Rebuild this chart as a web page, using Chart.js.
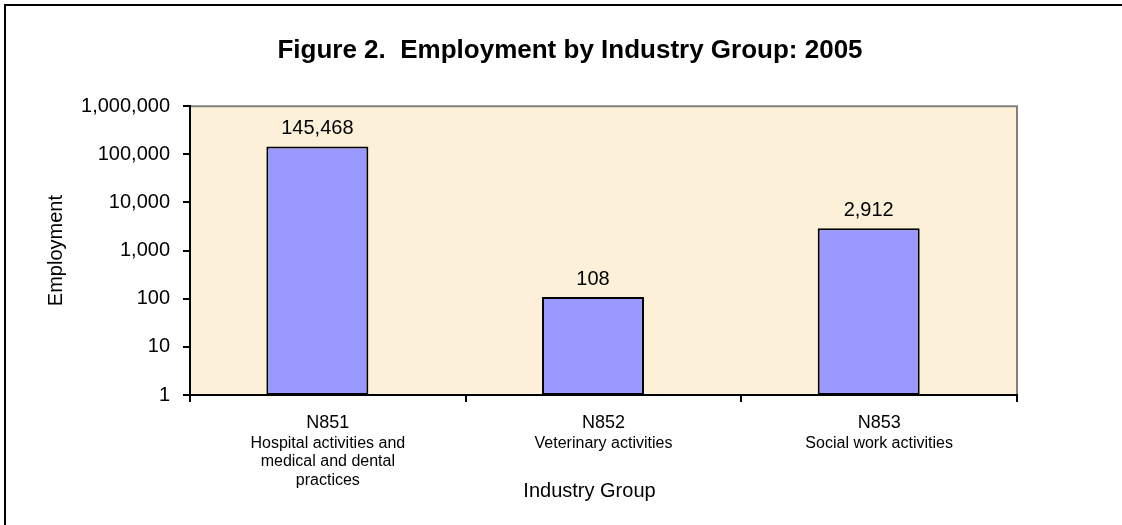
<!DOCTYPE html>
<html>
<head>
<meta charset="utf-8">
<script src="https://cdn.jsdelivr.net/npm/chart.js@4.4.1/dist/chart.umd.min.js"></script>
<style>
  html, body { margin: 0; padding: 0; background: #ffffff; }
  #wrap { position: relative; width: 1122px; height: 525px; }
</style>
</head>
<body>
<div id="wrap"><canvas id="c" width="1122" height="525"></canvas></div>
<script>
// ---- data ----
const codes = ["N851", "N852", "N853"];
const descriptions = [
  ["Hospital activities and", "medical and dental", "practices"],
  ["Veterinary activities"],
  ["Social work activities"]
];
const employment = [145468, 108, 2912];
const yTickValues = [1, 10, 100, 1000, 10000, 100000, 1000000];
const chartTitle = "Figure 2.  Employment by Industry Group: 2005";
const yTitle = "Employment";
const xTitle = "Industry Group";

const FONT = "'Liberation Sans', Arial, sans-serif";
const BAR_SHIFT = -0.038; // fraction of category width

const framePlugin = {
  id: 'frame',
  afterLayout(chart) {
    // centre the main title on the whole figure, and the x title a bit left of plot centre
    if (chart.titleBlock) {
      chart.titleBlock.left = 18;
      chart.titleBlock.right = chart.width;
    }
    const x3 = chart.scales.x3;
    if (x3) { x3.left = x3.left - 28; }
  },
  beforeDraw(chart) {
    const ctx = chart.ctx;
    const a = chart.chartArea;
    ctx.save();
    ctx.fillStyle = '#ffffff';
    ctx.fillRect(0, 0, chart.width, chart.height);
    // outer frame
    ctx.strokeStyle = '#000000';
    ctx.lineWidth = 2;
    ctx.beginPath();
    ctx.moveTo(5, chart.height);
    ctx.lineTo(5, 5);
    ctx.lineTo(chart.width, 5);
    ctx.stroke();
    // plot background
    ctx.fillStyle = '#FCF0D9';
    ctx.fillRect(a.left, a.top, a.right - a.left, a.bottom - a.top);
    // top and right border in grey
    ctx.strokeStyle = '#808080';
    ctx.lineWidth = 2;
    ctx.beginPath();
    ctx.moveTo(a.left, a.top);
    ctx.lineTo(a.right, a.top);
    ctx.lineTo(a.right, a.bottom);
    ctx.stroke();
    ctx.restore();
  }
};

const shiftPlugin = {
  id: 'shiftBars',
  beforeDatasetsDraw(chart) {
    const xs = chart.scales.x;
    const cw = (xs.right - xs.left) / codes.length;
    chart.ctx.save();
    chart.ctx.translate(BAR_SHIFT * cw, 0);
  },
  afterDatasetsDraw(chart) {
    const ctx = chart.ctx;
    const meta = chart.getDatasetMeta(0);
    ctx.fillStyle = '#000000';
    ctx.font = "20px " + FONT;
    ctx.textAlign = 'center';
    ctx.textBaseline = 'alphabetic';
    meta.data.forEach((bar, i) => {
      ctx.fillText(employment[i].toLocaleString('en-US'), bar.x, bar.y - 12);
    });
    ctx.restore();
  }
};

new Chart(document.getElementById('c'), {
  type: 'bar',
  data: {
    labels: codes,
    datasets: [{
      data: employment,
      backgroundColor: '#9999FF',
      borderColor: '#000000',
      borderWidth: 2,
      borderSkipped: false,
      categoryPercentage: 1,
      barPercentage: 0.37,
      xAxisID: 'x',
      yAxisID: 'y'
    }]
  },
  options: {
    responsive: false,
    animation: false,
    devicePixelRatio: 1,
    layout: { padding: { left: 18, right: 105, top: 0, bottom: 0 } },
    plugins: {
      legend: { display: false },
      tooltip: { enabled: false },
      title: {
        display: true,
        text: chartTitle,
        color: '#000000',
        font: { family: FONT, size: 26, weight: 'bold' },
        padding: { top: 35, bottom: 40 }
      }
    },
    scales: {
      y: {
        type: 'logarithmic',
        min: 1,
        max: 1000000,
        afterBuildTicks(scale) {
          scale.ticks = yTickValues.map(v => ({ value: v }));
        },
        afterFit(scale) { scale.width = 172; },
        ticks: {
          color: '#000000',
          font: { family: FONT, size: 20 },
          padding: 13,
          callback: (v) => Number(v).toLocaleString('en-US')
        },
        grid: {
          display: true,
          drawOnChartArea: false,
          drawTicks: true,
          tickLength: 7,
          color: '#000000',
          lineWidth: 2
        },
        border: { display: true, color: '#000000', width: 2 },
        title: {
          display: true,
          text: yTitle,
          color: '#000000',
          font: { family: FONT, size: 20 },
          padding: { top: 26, bottom: 0 }
        }
      },
      x: {
        type: 'category',
        position: 'bottom',
        offset: true,
        afterFit(scale) { scale.height = 36; },
        ticks: {
          color: '#000000',
          font: { family: FONT, size: 18 },
          padding: 10,
          maxRotation: 0,
          autoSkip: false
        },
        grid: {
          display: true,
          offset: true,
          drawOnChartArea: false,
          drawTicks: true,
          tickLength: 7,
          color: '#000000',
          lineWidth: 2
        },
        border: { display: true, color: '#000000', width: 2 }
      },
      x2: {
        type: 'category',
        position: 'bottom',
        offset: true,
        labels: descriptions,
        afterFit(scale) { scale.height = 62; },
        ticks: {
          color: '#000000',
          font: { family: FONT, size: 16, lineHeight: 1.16 },
          padding: 3,
          maxRotation: 0,
          autoSkip: false
        },
        grid: { display: false, drawTicks: false },
        border: { display: false }
      },
      x3: {
        type: 'category',
        position: 'bottom',
        labels: [''],
        afterFit(scale) { scale.height = 32; },
        ticks: { display: false },
        grid: { display: false, drawTicks: false },
        border: { display: false },
        title: {
          display: true,
          text: xTitle,
          color: '#000000',
          font: { family: FONT, size: 20 },
          padding: { top: 0, bottom: 22 }
        }
      }
    }
  },
  plugins: [framePlugin, shiftPlugin]
});
</script>
</body>
</html>
